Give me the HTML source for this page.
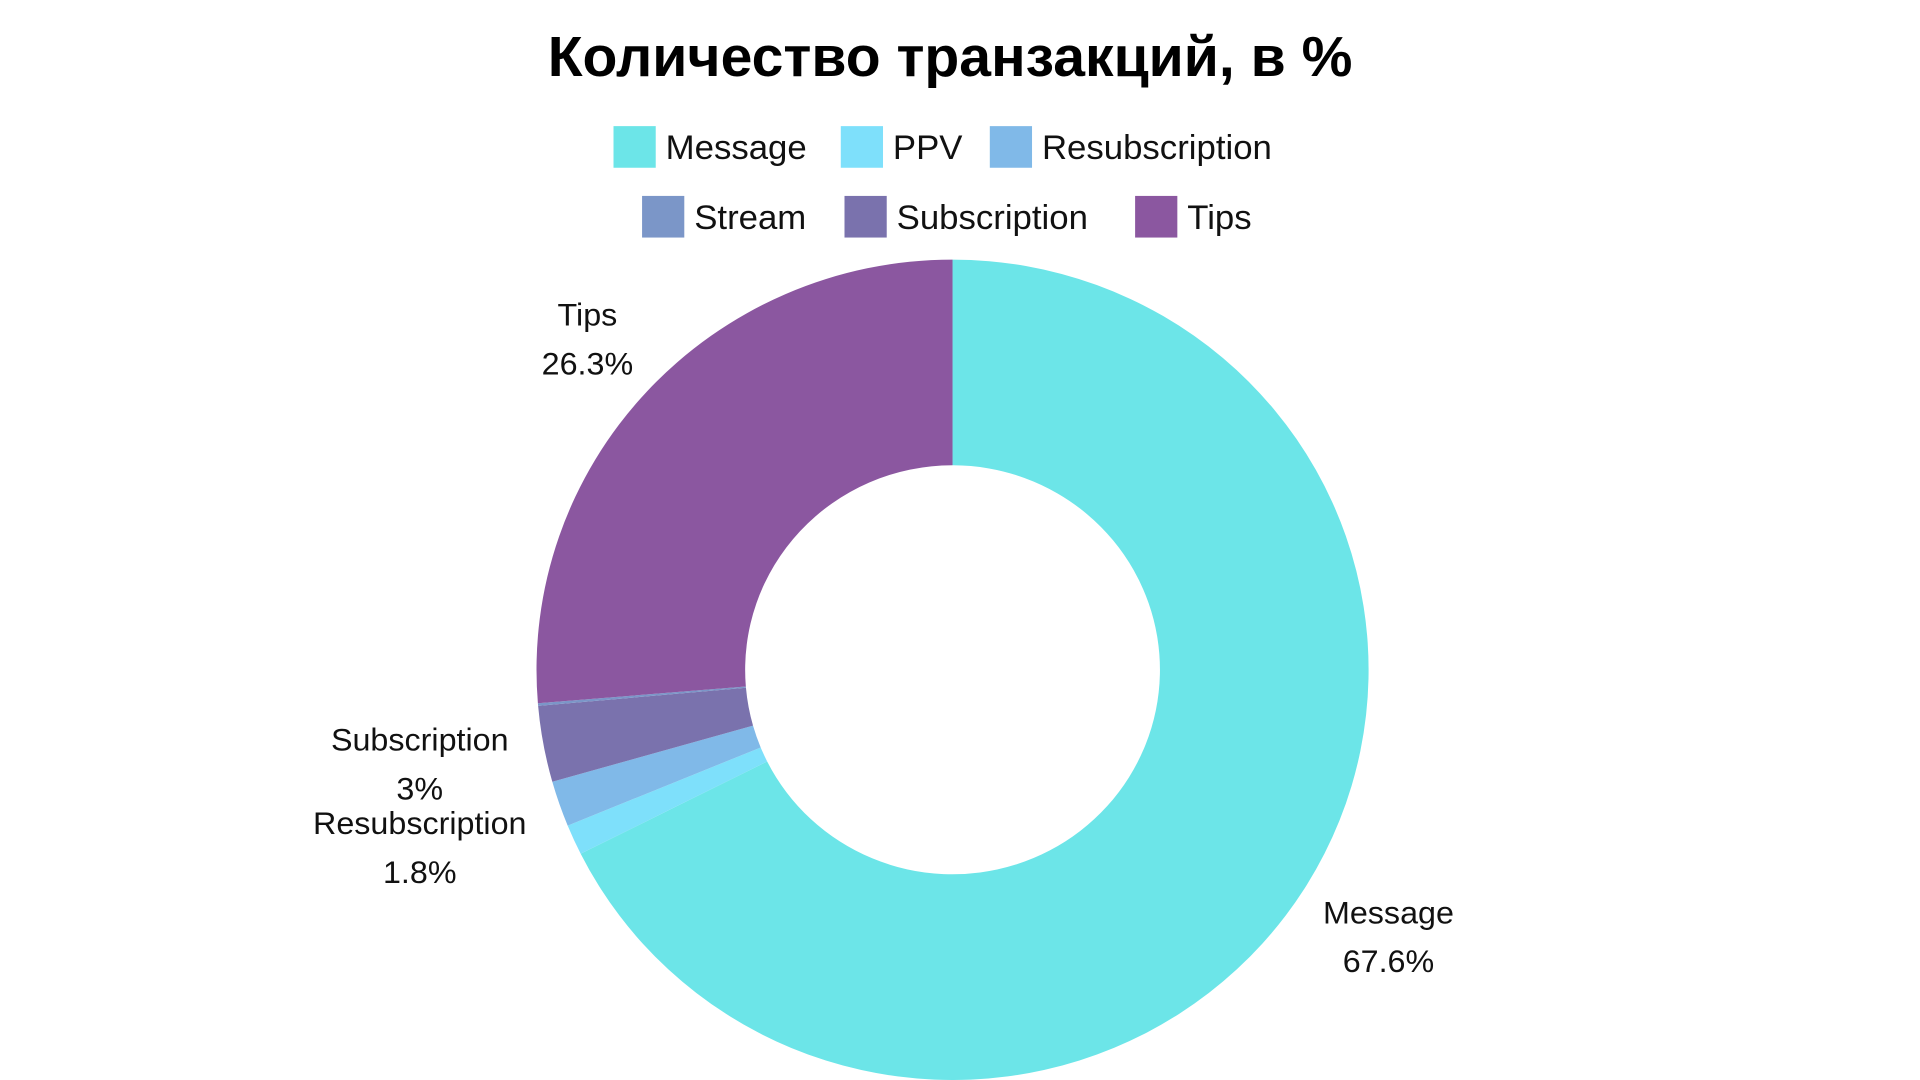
<!DOCTYPE html>
<html><head><meta charset="utf-8"><style>
html,body{margin:0;padding:0;background:#fff;width:1920px;height:1080px;overflow:hidden}
svg{display:block;font-family:"Liberation Sans","DejaVu Sans",sans-serif}
</style></head><body>
<svg id="chart" width="1920" height="1080" viewBox="0 0 1546 882" preserveAspectRatio="none" xmlns="http://www.w3.org/2000/svg">
<text x="765" y="62" text-anchor="middle" font-size="46" font-weight="bold" fill="#000">Количество транзакций, в %</text>
<g id="legend"></g>
<g id="slices"></g>
<g id="labels"></g>
</svg>
<script>
const categories = ["Message","PPV","Resubscription","Subscription","Stream","Tips"];
const values = [67.6, 1.2, 1.8, 3, 0.1, 26.3];
const printedValues = ["67.6%","1.2%","1.8%","3%","0.1%","26.3%"];
const showLabel = [true,false,true,true,false,true];
const colors = ["#6ce5e8","#7ee0fb","#80b9e8","#7a72ad","#7b96c8","#8b57a0"];
const legendOrder = ["Message","PPV","Resubscription","Stream","Subscription","Tips"];

const NS="http://www.w3.org/2000/svg";
const cx=767, cy=547, R=335, r=167;
const total=values.reduce((a,b)=>a+b,0);
function pt(rad,a){return [cx+rad*Math.sin(a), cy-rad*Math.cos(a)];}
const slicesG=document.getElementById('slices');
const labelsG=document.getElementById('labels');
let acc=0;
values.forEach((v,i)=>{
  const a0=acc/total*2*Math.PI; acc+=v; const a1=acc/total*2*Math.PI;
  const large=(a1-a0)>Math.PI?1:0;
  const p0=pt(R,a0),p1=pt(R,a1),q1=pt(r,a1),q0=pt(r,a0);
  const path=document.createElementNS(NS,'path');
  path.setAttribute('d',`M${p0[0]},${p0[1]} A${R},${R} 0 ${large} 1 ${p1[0]},${p1[1]} L${q1[0]},${q1[1]} A${r},${r} 0 ${large} 0 ${q0[0]},${q0[1]} Z`);
  path.setAttribute('fill',colors[i]);
  
  
  slicesG.appendChild(path);
  if(showLabel[i]){
    const am=(a0+a1)/2;
    let lp=pt(R+55,am);
    if(categories[i]==="Subscription"){lp=[338,604];}
    else if(categories[i]==="Resubscription"){lp=[338,672];}
    else if(categories[i]==="Tips"){lp=[473,257];}
    else if(categories[i]==="Message"){lp=[1118,745];}
    const t=document.createElementNS(NS,'text');
    t.setAttribute('x',lp[0]);t.setAttribute('y',lp[1]+9);
    t.setAttribute('text-anchor','middle');t.setAttribute('font-size','26');t.setAttribute('fill','#111');
    t.textContent=categories[i];
    
    
    labelsG.appendChild(t);
    const t2=document.createElementNS(NS,'text');
    t2.setAttribute('x',lp[0]);t2.setAttribute('y',lp[1]+49);
    t2.setAttribute('text-anchor','middle');t2.setAttribute('font-size','26');t2.setAttribute('fill','#111');
    t2.textContent=printedValues[i];
    
    
    labelsG.appendChild(t2);
  }
});
// legend
const legendG=document.getElementById('legend');
const rows=[[494,677,797],[517,680,914]];
const rowY=[120,177];
legendOrder.forEach((name,k)=>{
  const row=Math.floor(k/3), col=k%3;
  const x=rows[row][col], y=rowY[row];
  const ci=categories.indexOf(name);
  const g=document.createElementNS(NS,'g');
  
  
  const s=document.createElementNS(NS,'rect');
  s.setAttribute('x',x);s.setAttribute('y',y-17);s.setAttribute('width',34);s.setAttribute('height',34);
  s.setAttribute('fill',colors[ci]);
  
  
  const t=document.createElementNS(NS,'text');
  t.setAttribute('x',x+42);t.setAttribute('y',y+10);t.setAttribute('font-size','28');t.setAttribute('fill','#111');
  t.textContent=name;
  
  
  g.appendChild(s);g.appendChild(t);legendG.appendChild(g);
});
</script>
</body></html>
